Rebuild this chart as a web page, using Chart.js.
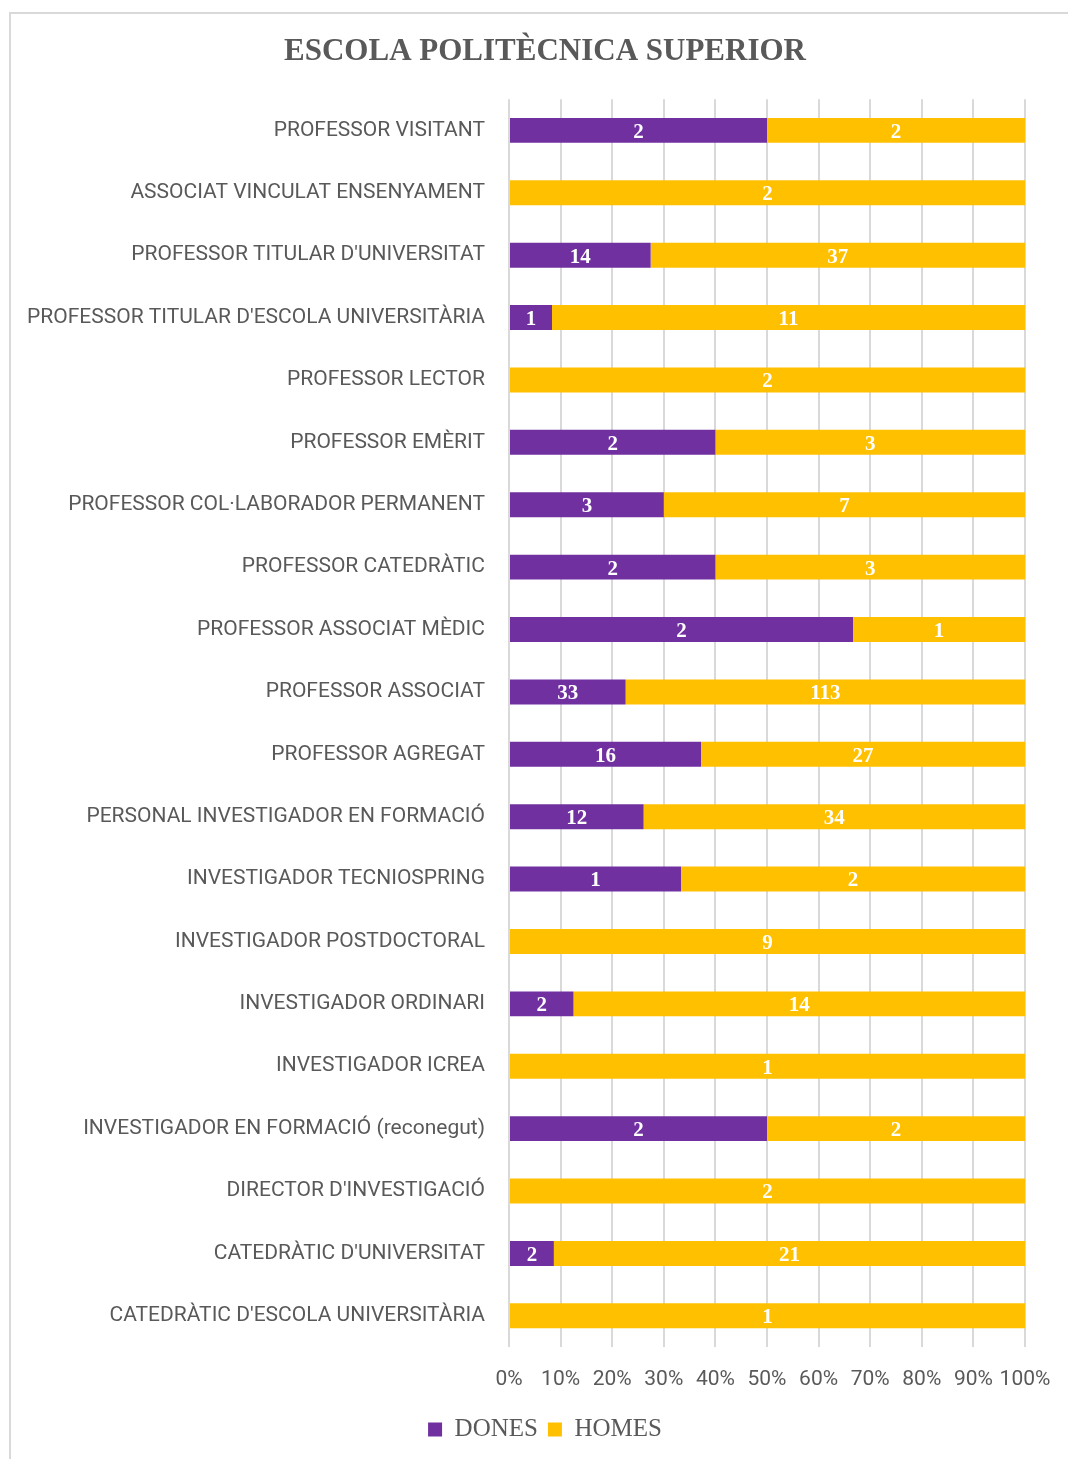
<!DOCTYPE html>
<html>
<head>
<meta charset="utf-8">
<script src="https://cdn.jsdelivr.net/npm/chart.js@4.4.0/dist/chart.umd.min.js"></script>
<style>
  html, body { margin: 0; padding: 0; background: #fff; overflow: hidden; }
  #frame { position: absolute; left: 9px; top: 12px; width: 1100px; height: 1500px; border: 2px solid #d9d9d9; box-sizing: border-box; }
  #wrap { position: absolute; left: 0; top: 0; width: 1090px; height: 1459px; }
</style>
</head>
<body>
<div id="frame"></div>
<div id="wrap"><canvas id="escolaChart" width="1090" height="1459"></canvas></div>
<script>
const categories = [
  'PROFESSOR VISITANT',
  'ASSOCIAT VINCULAT ENSENYAMENT',
  "PROFESSOR TITULAR D'UNIVERSITAT",
  "PROFESSOR TITULAR D'ESCOLA UNIVERSITÀRIA",
  'PROFESSOR LECTOR',
  'PROFESSOR EMÈRIT',
  'PROFESSOR COL·LABORADOR PERMANENT',
  'PROFESSOR CATEDRÀTIC',
  'PROFESSOR ASSOCIAT MÈDIC',
  'PROFESSOR ASSOCIAT',
  'PROFESSOR AGREGAT',
  'PERSONAL INVESTIGADOR EN FORMACIÓ',
  'INVESTIGADOR TECNIOSPRING',
  'INVESTIGADOR POSTDOCTORAL',
  'INVESTIGADOR ORDINARI',
  'INVESTIGADOR ICREA',
  'INVESTIGADOR EN FORMACIÓ (reconegut)',
  "DIRECTOR D'INVESTIGACIÓ",
  "CATEDRÀTIC D'UNIVERSITAT",
  "CATEDRÀTIC D'ESCOLA UNIVERSITÀRIA"
];
const dones = [2, 0, 14, 1, 0, 2, 3, 2, 2, 33, 16, 12, 1, 0, 2, 0, 2, 0, 2, 0];
const homes = [2, 2, 37, 11, 2, 3, 7, 3, 1, 113, 27, 34, 2, 9, 14, 1, 2, 2, 21, 1];
const percentTicks = ['0%', '10%', '20%', '30%', '40%', '50%', '60%', '70%', '80%', '90%', '100%'];

// 100% stacked: share of each row
const totals = dones.map((d, i) => d + homes[i]);
const donesPct = dones.map((d, i) => d / totals[i] * 100);
const homesPct = homes.map((h, i) => h / totals[i] * 100);
const counts = [dones, homes];

const countLabels = {
  id: 'countLabels',
  afterDatasetsDraw(chart) {
    const ctx = chart.ctx;
    ctx.save();
    ctx.fillStyle = '#ffffff';
    ctx.font = 'bold 21px "Liberation Serif", serif';
    ctx.textAlign = 'center';
    ctx.textBaseline = 'middle';
    chart.data.datasets.forEach((ds, di) => {
      chart.getDatasetMeta(di).data.forEach((bar, i) => {
        const n = counts[di][i];
        if (!n) return;
        const cx = (bar.x + bar.base) / 2;
        ctx.fillText(String(n), cx, bar.y + 2);
      });
    });
    ctx.restore();
  }
};

new Chart(document.getElementById('escolaChart'), {
  type: 'bar',
  data: {
    labels: categories,
    datasets: [
      { label: 'DONES', data: donesPct, backgroundColor: '#7030A0', barPercentage: 0.8, categoryPercentage: 0.5 },
      { label: 'HOMES', data: homesPct, backgroundColor: '#FFC000', barPercentage: 0.8, categoryPercentage: 0.5 }
    ]
  },
  options: {
    indexAxis: 'y',
    responsive: false,
    animation: false,
    layout: { padding: { left: 0, right: 0, top: 0, bottom: 7 } },
    scales: {
      x: {
        stacked: true,
        min: 0,
        max: 100,
        grid: { color: '#d9d9d9', lineWidth: 2, drawTicks: false },
        border: { display: false },
        afterBuildTicks(axis) {
          axis.ticks = percentTicks.map((t, i) => ({ value: i * 10 }));
        },
        ticks: {
          padding: 20,
          color: '#595959',
          autoSkip: false,
          maxRotation: 0,
          minRotation: 0,
          font: { family: 'Roboto, sans-serif', size: 21 },
          callback: (v, i) => percentTicks[i]
        },
        afterFit(axis) { axis.height = 60; }
      },
      y: {
        stacked: true,
        grid: { display: false, drawTicks: false },
        border: { display: false },
        ticks: {
          padding: 24,
          color: '#595959',
          font: { family: 'Roboto, sans-serif', size: 21 }
        },
        afterFit(axis) { axis.width = 509; }
      },
      // empty right-hand gutter so the title and legend centre on the whole frame
      yRight: {
        type: 'category',
        position: 'right',
        grid: { display: false, drawTicks: false },
        border: { display: false },
        ticks: { display: false },
        afterFit(axis) { axis.width = 65; }
      }
    },
    plugins: {
      title: {
        display: true,
        text: 'ESCOLA POLITÈCNICA SUPERIOR',
        color: '#595959',
        font: { family: '"Liberation Serif", serif', size: 31, weight: 'bold' },
        padding: { top: 33, bottom: 29 }
      },
      legend: {
        display: true,
        position: 'bottom',
        labels: {
          color: '#595959',
          font: { family: '"Liberation Serif", serif', size: 25 },
          boxWidth: 14,
          boxHeight: 14,
          padding: 10
        }
      },
      tooltip: { enabled: false }
    }
  },
  plugins: [countLabels]
});
</script>
</body>
</html>
